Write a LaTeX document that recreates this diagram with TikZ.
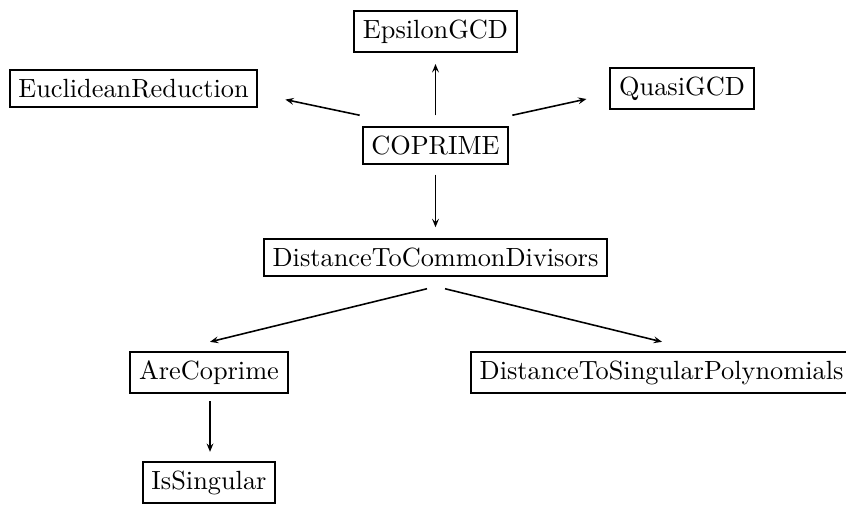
\documentclass[tikz,border=0pt]{standalone}
\usepackage{tikz}
\usetikzlibrary{calc,arrows.meta}
\tikzset{every picture/.style={line width=0.6pt}}
\tikzset{
modbox/.style={draw,line width=0.75pt,inner sep=3.3pt},
dep/.style={-{Stealth[length=3.2pt,width=2.6pt,inset=1.2pt]}}}

\begin{document}
\begin{tikzpicture}[x=0.38pt,y=0.38pt,yscale=-1,xscale=1]
\useasboundingbox (0,0) rectangle (846,506); %picture is 846 x 506

%Modules: top
\node[modbox] (eps) at (435.5,31.5) {EpsilonGCD};
\node[modbox] (euc) at (133.5,88.5) {EuclideanReduction};
\node[modbox] (quasi) at (682,88.5) {QuasiGCD};
\node[modbox] (coprime) at (435.5,145.5) {COPRIME};
%Modules: middle and bottom
\node[modbox] (dist) at (435.5,257.5) {DistanceToCommonDivisors};
\node[modbox] (arecop) at (209,372.5) {AreCoprime};
\node[modbox,anchor=west] (dsp) at (470,372.5) {DistanceToSingularPolynomials};
\node[modbox] (issing) at (209,482.5) {IsSingular};

%Arrows out of COPRIME
\draw[dep] ($(coprime.north)+(0,-11)$) -- ($(eps.south)+(0,11)$);
\draw[dep] ($(coprime.north west)+(-2,-11)$) -- ($(euc.south east)+(27,-8)$);
\draw[dep] ($(coprime.north east)+(3,-11)$) -- ($(quasi.south west)+(-23,-11)$);
\draw[dep] ($(coprime.south)+(0,10)$) -- ($(dist.north)+(0,-11)$);
%Arrows out of DistanceToCommonDivisors
\draw[dep] ($(dist.south)+(-8.5,12)$) -- ($(arecop.north)+(1,-9)$);
\draw[dep] ($(dist.south)+(9.5,12)$) -- ($(dsp.north west)+(192,-9)$);
%Arrow out of AreCoprime
\draw[dep] ($(arecop.south)+(1,7)$) -- ($(issing.north)+(1,-9)$);

\end{tikzpicture}
\end{document}
